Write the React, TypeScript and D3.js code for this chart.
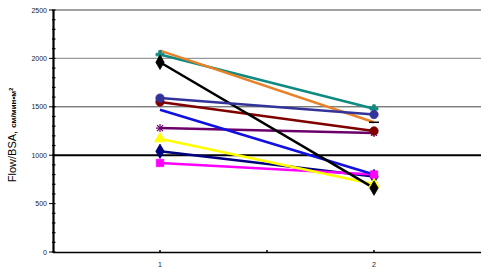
import React from "react";
import * as d3 from "d3";

const categories = ["1", "2"];
const yTicks = [0, 500, 1000, 1500, 2000, 2500];
const seriesNames = ["navy", "magenta", "yellow", "purple", "maroon", "teal", "blue", "black", "orange", "slate"];
const seriesValues: number[][] = [
  [1040, 780],
  [920, 800],
  [1170, 700],
  [1280, 1230],
  [1550, 1250],
  [2040, 1480],
  [1470, 800],
  [1960, 660],
  [2080, 1340],
  [1590, 1420],
];
const seriesColors = ["#000080", "#FF00FF", "#FFFF00", "#6B006B", "#800000", "#0F8A80", "#1010E0", "#000000", "#E8822A", "#333399"];
const seriesMarkers = ["diamond", "square", "triangle", "asterisk", "circle", "plus", "none", "diamond", "dash", "circle"];
const gridLines = [
  { v: 2500, color: "#444", w: 1 },
  { v: 2000, color: "#999", w: 1.2 },
  { v: 1500, color: "#444", w: 1 },
  { v: 1000, color: "#000", w: 2 },
];

const symbolMap: Record<string, any> = {
  diamond: d3.symbolDiamond,
  square: d3.symbolSquare,
  triangle: d3.symbolTriangle,
  circle: d3.symbolCircle,
  plus: d3.symbolCross,
};

export default function App() {
  const left = 53, right = 481, top = 10, bottom = 252;
  const x = d3.scaleBand<string>().domain(categories).range([left, right]);
  const cx = (c: string) => (x(c) as number) + x.bandwidth() / 2;
  const y = d3.scaleLinear().domain([0, 2500]).range([bottom, top]);
  const minor = d3.range(0, 2501, 100);
  const xTickPos = [cx("1"), (cx("1") + cx("2")) / 2, cx("2")];
  const line = d3.line<number>().x((_, i) => cx(categories[i])).y((v) => y(v));

  const marker = (kind: string, color: string, px: number, py: number, key: string, j: number) => {
    if (kind === "none") return null;
    if (kind === "asterisk") {
      const r = 4;
      return (
        <g key={key} stroke={color} strokeWidth={1.2}>
          <line x1={px - r} y1={py} x2={px + r} y2={py} />
          <line x1={px} y1={py - r} x2={px} y2={py + r} />
          <line x1={px - r * 0.75} y1={py - r * 0.75} x2={px + r * 0.75} y2={py + r * 0.75} />
          <line x1={px - r * 0.75} y1={py + r * 0.75} x2={px + r * 0.75} y2={py - r * 0.75} />
        </g>
      );
    }
    if (kind === "dash") {
      if (j === 0) return null;
      return <line key={key} x1={px - 5} y1={py} x2={px + 5} y2={py} stroke="#000" strokeWidth={1.5} />;
    }
    const size = kind === "circle" ? 55 : kind === "square" ? 55 : kind === "triangle" ? 50 : kind === "plus" ? 35 : 60;
    const path = d3.symbol().type(symbolMap[kind]).size(size)() as string;
    return <path key={key} d={path} transform={`translate(${px},${py})`} fill={color} stroke={color} strokeWidth={0.8} />;
  };

  return (
    <svg width={496} height={274} style={{ position: "absolute", left: 0, top: 0, background: "#fff" }} fontFamily="Arial, 'Liberation Sans', sans-serif">
      <rect x={0} y={0} width={496} height={274} fill="#fff" />
      {gridLines.map((g) => (
        <line key={g.v} x1={left} x2={right} y1={y(g.v)} y2={y(g.v)} stroke={g.color} strokeWidth={g.w} />
      ))}
      {/* y axis */}
      <line x1={left + 0.5} x2={left + 0.5} y1={top} y2={bottom} stroke="#000" strokeWidth={2.2} />
      {minor.map((v) => (
        <line key={v} x1={left - 1} x2={left + 2.5} y1={y(v)} y2={y(v)} stroke="#000" strokeWidth={1.2} />
      ))}
      {yTicks.map((v) => (
        <g key={v}>
          <line x1={left - 4} x2={left} y1={y(v)} y2={y(v)} stroke="#000" strokeWidth={1} />
          <text x={left - 6} y={y(v) + 2.5} fontSize={7} textAnchor="end" fill="#222">{v}</text>
        </g>
      ))}
      {/* x axis */}
      <line x1={left} x2={right} y1={bottom + 0.5} y2={bottom + 0.5} stroke="#000" strokeWidth={1.5} />
      {xTickPos.map((p, i) => (
        <line key={i} x1={p} x2={p} y1={bottom - 2} y2={bottom + 1} stroke="#000" strokeWidth={1.5} />
      ))}
      {categories.map((c) => (
        <text key={c} x={cx(c)} y={bottom + 15} fontSize={7} textAnchor="middle" fill="#222">{c}</text>
      ))}
      {/* y title */}
      <text transform={`translate(16, 135) rotate(-90)`} textAnchor="middle" fill="#000">
        <tspan fontSize={11}>Flow/BSA, </tspan>
        <tspan fontSize={8} fontWeight="bold">см/мин•м</tspan>
        <tspan fontSize={5.5} fontWeight="bold" dy={-3.5}>2</tspan>
      </text>
      {/* lines */}
      {seriesValues.map((vals, i) => (
        <path key={seriesNames[i]} d={line(vals) as string} fill="none" stroke={seriesColors[i]} strokeWidth={2.5} />
      ))}
      {seriesValues.map((vals, i) =>
        vals.map((v, j) => marker(seriesMarkers[i], seriesColors[i], cx(categories[j]), y(v), `${i}-${j}`, j))
      )}
    </svg>
  );
}
